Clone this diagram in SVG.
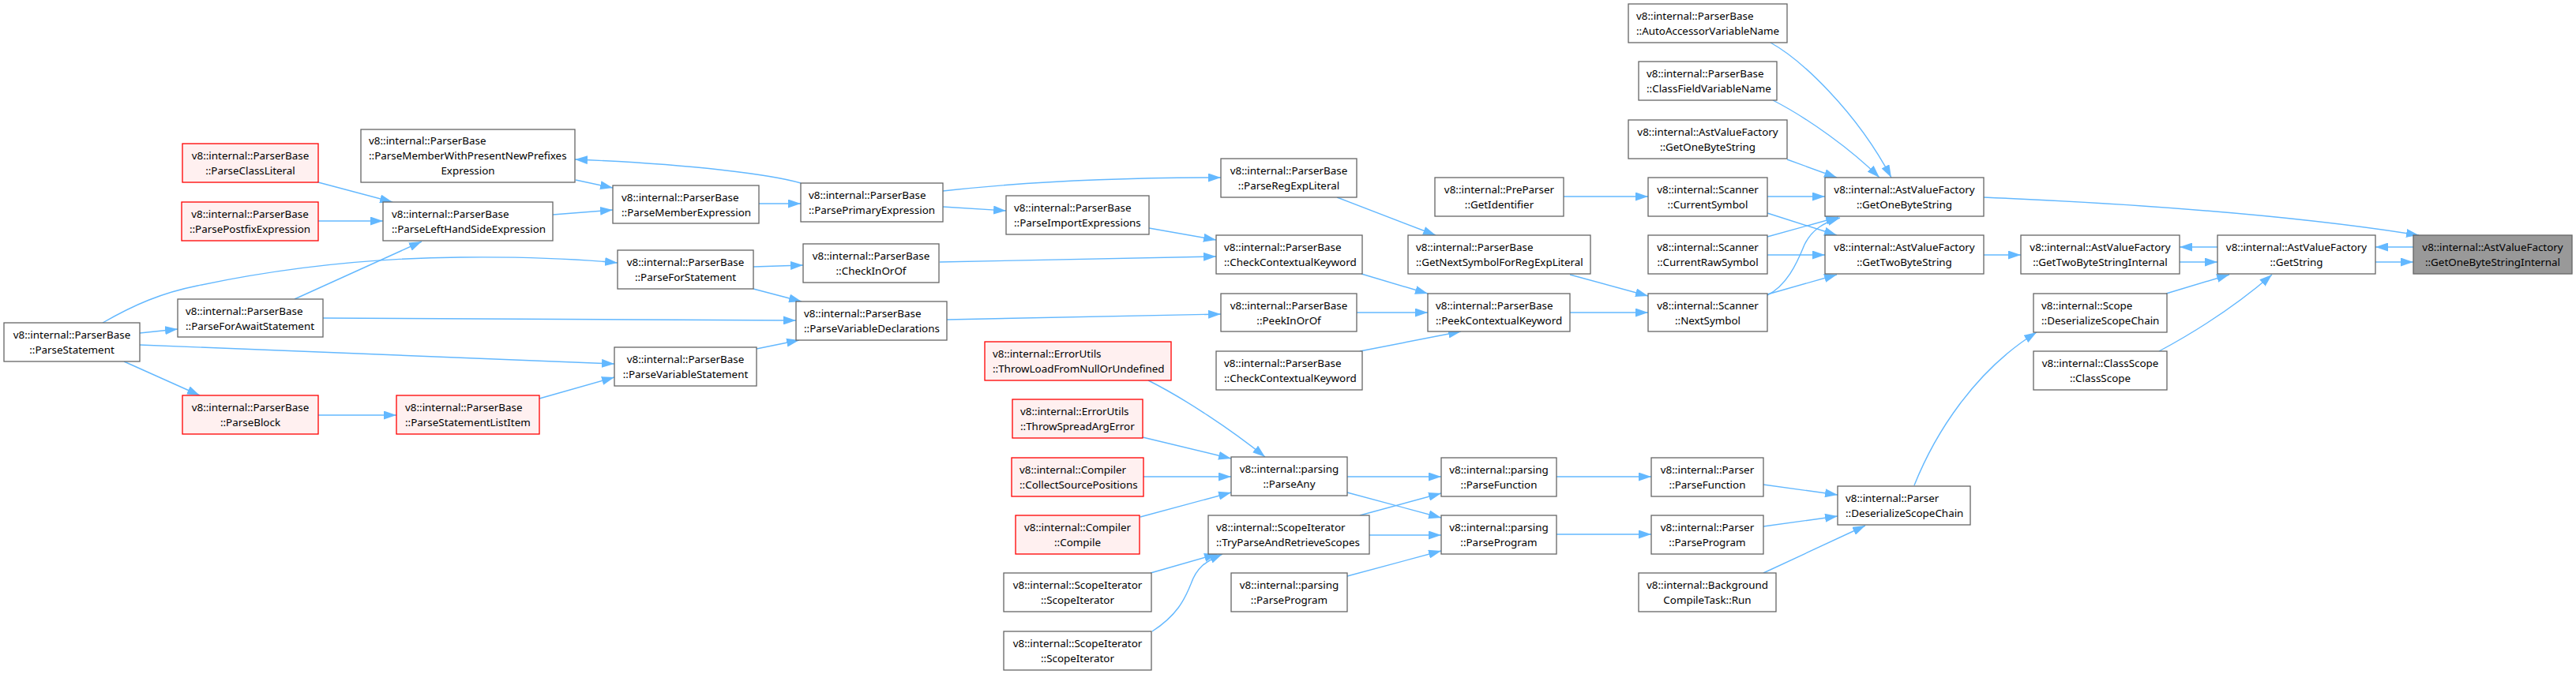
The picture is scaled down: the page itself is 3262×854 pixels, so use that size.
<svg xmlns="http://www.w3.org/2000/svg" width="3262" height="854" viewBox="0 0 3262 854">
<style>
rect{fill:#fff;stroke:#666;stroke-width:1.3}
.r rect{fill:#fff0f0;stroke:#f00}
.m rect{fill:#999;stroke:#666}
text{font-family:"Noto Sans","DejaVu Sans",sans-serif;font-size:13.4px;fill:#000}
.c text{text-anchor:middle}
#edges path{fill:none;stroke:#63b8ff;stroke-width:1.4;marker-end:url(#a)}
</style>
<defs>
<marker id="a" markerWidth="16" markerHeight="11" refX="16" refY="5.5" orient="auto" markerUnits="userSpaceOnUse"><path d="M0,0 L16,5.5 L0,11 z" fill="#63b8ff"/></marker>
</defs>
<rect x="0" y="0" width="3262" height="854" style="fill:#fff;stroke:none"/>
<g id="edges">
<path d="M403,231 L497,256"/>
<path d="M403,280 L485,280"/>
<path d="M373,379 L534,306"/>
<path d="M177,422 L225,417"/>
<path d="M130,409 C170,386 205,371 250,362 C340,343 450,327 583,326 C680,325 740,329 782,333"/>
<path d="M409,403 L1008,406"/>
<path d="M177,437 L778,461"/>
<path d="M157,458 L253,501"/>
<path d="M403,526 L502,526"/>
<path d="M683,505 L778,478"/>
<path d="M729,228 L776,238"/>
<path d="M700,272 L776,266"/>
<path d="M961,258 L1014,258"/>
<path d="M1014,232 C980,222 880,208 728,202"/>
<path d="M1194,242 C1300,230 1420,225 1546,225"/>
<path d="M1194,262 L1274,267"/>
<path d="M1455,289 L1540,304"/>
<path d="M954,338 L1017,336"/>
<path d="M954,366 L1015,382"/>
<path d="M958,442 L1012,431"/>
<path d="M1190,332 L1540,325"/>
<path d="M1199,405 L1546,398"/>
<path d="M1724,347 L1808,372"/>
<path d="M1718,396 L1808,396"/>
<path d="M1722,445 L1850,420"/>
<path d="M1693,250 L1818,298"/>
<path d="M1988,348 L2087,375"/>
<path d="M1988,396 L2087,396"/>
<path d="M1980,249 L2087,249"/>
<path d="M2242,54 C2280,75 2350,140 2395,225"/>
<path d="M2245,127 C2290,150 2345,190 2380,225"/>
<path d="M2263,202 L2326,225"/>
<path d="M2238,249 L2311,249"/>
<path d="M2238,270 L2326,298"/>
<path d="M2238,300 L2328,275"/>
<path d="M2238,323 L2311,323"/>
<path d="M2238,374 C2262,362 2275,335 2285,310 C2295,290 2310,282 2330,276"/>
<path d="M2238,373 L2326,348"/>
<path d="M2512,250 C2700,258 2900,272 3063,298"/>
<path d="M2512,323 L2559,323"/>
<path d="M2808,313 L2760,313"/>
<path d="M2760,332 L2808,332"/>
<path d="M3008,332 L3056,332"/>
<path d="M3056,313 L3008,313"/>
<path d="M2743,372 L2823,348"/>
<path d="M2734,445 C2790,415 2840,380 2877,348"/>
<path d="M2424,615 C2450,550 2500,470 2579,421"/>
<path d="M2233,614 L2327,627"/>
<path d="M2233,667 L2327,654"/>
<path d="M2233,726 L2362,666"/>
<path d="M1971,604 L2091,604"/>
<path d="M1971,677 L2091,677"/>
<path d="M1706,604 L1825,604"/>
<path d="M1706,624 L1825,656"/>
<path d="M1722,653 L1825,625"/>
<path d="M1734,678 L1825,678"/>
<path d="M1706,730 L1825,698"/>
<path d="M1454,482 C1500,505 1560,545 1602,579"/>
<path d="M1447,554 L1559,581"/>
<path d="M1448,604 L1559,604"/>
<path d="M1444,655 L1559,624"/>
<path d="M1457,726 L1541,702"/>
<path d="M1459,800 C1490,780 1500,760 1508,740 C1515,720 1525,712 1548,702"/>
</g>
<g id="n_statement" class="c"><rect x="5" y="409" width="172" height="49"/><text x="91" y="428.5">v8::internal::ParserBase</text><text x="91" y="447.5">::ParseStatement</text></g>
<g id="n_classlit" class="c r"><rect x="231" y="182" width="172" height="49"/><text x="317" y="201.5">v8::internal::ParserBase</text><text x="317" y="220.5">::ParseClassLiteral</text></g>
<g id="n_postfix" class="c r"><rect x="230" y="256" width="173" height="49"/><text x="316.5" y="275.5">v8::internal::ParserBase</text><text x="316.5" y="294.5">::ParsePostfixExpression</text></g>
<g id="n_forawait"><rect x="225" y="379" width="184" height="48"/><text x="235" y="398.5">v8::internal::ParserBase</text><text x="235" y="417.5">::ParseForAwaitStatement</text></g>
<g id="n_block" class="c r"><rect x="231" y="501" width="172" height="49"/><text x="317" y="520.5">v8::internal::ParserBase</text><text x="317" y="539.5">::ParseBlock</text></g>
<g id="n_memberwith"><rect x="457" y="164" width="271" height="67"/><text x="467" y="182.5">v8::internal::ParserBase</text><text x="467" y="201.5">::ParseMemberWithPresentNewPrefixes</text><text x="592.5" y="220.5" text-anchor="middle">Expression</text></g>
<g id="n_lhs"><rect x="485" y="256" width="215" height="49"/><text x="496" y="275.5">v8::internal::ParserBase</text><text x="496" y="294.5">::ParseLeftHandSideExpression</text></g>
<g id="n_stmtlist" class="r"><rect x="502" y="501" width="181" height="49"/><text x="513" y="520.5">v8::internal::ParserBase</text><text x="513" y="539.5">::ParseStatementListItem</text></g>
<g id="n_member"><rect x="776" y="235" width="185" height="48"/><text x="787" y="254.5">v8::internal::ParserBase</text><text x="787" y="273.5">::ParseMemberExpression</text></g>
<g id="n_for" class="c"><rect x="782" y="317" width="172" height="49"/><text x="868" y="336.5">v8::internal::ParserBase</text><text x="868" y="355.5">::ParseForStatement</text></g>
<g id="n_varstmt" class="c"><rect x="778" y="440" width="180" height="49"/><text x="868" y="459.5">v8::internal::ParserBase</text><text x="868" y="478.5">::ParseVariableStatement</text></g>
<g id="n_primary"><rect x="1014" y="232" width="180" height="49"/><text x="1024" y="251.5">v8::internal::ParserBase</text><text x="1024" y="270.5">::ParsePrimaryExpression</text></g>
<g id="n_inorof" class="c"><rect x="1017" y="309" width="172" height="49"/><text x="1103" y="328.5">v8::internal::ParserBase</text><text x="1103" y="347.5">::CheckInOrOf</text></g>
<g id="n_vardecl"><rect x="1008" y="382" width="191" height="49"/><text x="1018" y="401.5">v8::internal::ParserBase</text><text x="1018" y="420.5">::ParseVariableDeclarations</text></g>
<g id="n_import"><rect x="1274" y="248" width="181" height="49"/><text x="1284" y="267.5">v8::internal::ParserBase</text><text x="1284" y="286.5">::ParseImportExpressions</text></g>
<g id="n_throwload" class="r"><rect x="1247" y="433" width="236" height="49"/><text x="1257" y="452.5">v8::internal::ErrorUtils</text><text x="1257" y="471.5">::ThrowLoadFromNullOrUndefined</text></g>
<g id="n_throwspread" class="r"><rect x="1282" y="506" width="165" height="49"/><text x="1292" y="525.5">v8::internal::ErrorUtils</text><text x="1292" y="544.5">::ThrowSpreadArgError</text></g>
<g id="n_collect" class="r"><rect x="1281" y="580" width="167" height="49"/><text x="1291" y="599.5">v8::internal::Compiler</text><text x="1291" y="618.5">::CollectSourcePositions</text></g>
<g id="n_compile" class="c r"><rect x="1286" y="653" width="157" height="49"/><text x="1364.5" y="672.5">v8::internal::Compiler</text><text x="1364.5" y="691.5">::Compile</text></g>
<g id="n_scopeit1" class="c"><rect x="1271" y="726" width="187" height="49"/><text x="1364.5" y="745.5">v8::internal::ScopeIterator</text><text x="1364.5" y="764.5">::ScopeIterator</text></g>
<g id="n_scopeit2" class="c"><rect x="1271" y="800" width="187" height="49"/><text x="1364.5" y="819.5">v8::internal::ScopeIterator</text><text x="1364.5" y="838.5">::ScopeIterator</text></g>
<g id="n_regexp" class="c"><rect x="1546" y="201" width="172" height="49"/><text x="1632" y="220.5">v8::internal::ParserBase</text><text x="1632" y="239.5">::ParseRegExpLiteral</text></g>
<g id="n_checkctx1"><rect x="1540" y="298" width="185" height="49"/><text x="1550" y="317.5">v8::internal::ParserBase</text><text x="1550" y="336.5">::CheckContextualKeyword</text></g>
<g id="n_peekinorof" class="c"><rect x="1546" y="372" width="172" height="48"/><text x="1632" y="391.5">v8::internal::ParserBase</text><text x="1632" y="410.5">::PeekInOrOf</text></g>
<g id="n_checkctx2"><rect x="1540" y="445" width="185" height="49"/><text x="1550" y="464.5">v8::internal::ParserBase</text><text x="1550" y="483.5">::CheckContextualKeyword</text></g>
<g id="n_parseany" class="c"><rect x="1559" y="579" width="147" height="49"/><text x="1632.5" y="598.5">v8::internal::parsing</text><text x="1632.5" y="617.5">::ParseAny</text></g>
<g id="n_tryparse"><rect x="1530" y="653" width="204" height="49"/><text x="1540" y="672.5">v8::internal::ScopeIterator</text><text x="1540" y="691.5">::TryParseAndRetrieveScopes</text></g>
<g id="n_parseprog_lo" class="c"><rect x="1559" y="726" width="147" height="49"/><text x="1632.5" y="745.5">v8::internal::parsing</text><text x="1632.5" y="764.5">::ParseProgram</text></g>
<g id="n_getnext"><rect x="1783" y="298" width="231" height="49"/><text x="1793" y="317.5">v8::internal::ParserBase</text><text x="1793" y="336.5">::GetNextSymbolForRegExpLiteral</text></g>
<g id="n_peekctx"><rect x="1808" y="372" width="180" height="48"/><text x="1818" y="391.5">v8::internal::ParserBase</text><text x="1818" y="410.5">::PeekContextualKeyword</text></g>
<g id="n_getident" class="c"><rect x="1817" y="225" width="163" height="49"/><text x="1898.5" y="244.5">v8::internal::PreParser</text><text x="1898.5" y="263.5">::GetIdentifier</text></g>
<g id="n_pfunc" class="c"><rect x="1825" y="580" width="146" height="49"/><text x="1898" y="599.5">v8::internal::parsing</text><text x="1898" y="618.5">::ParseFunction</text></g>
<g id="n_pprog" class="c"><rect x="1825" y="653" width="146" height="49"/><text x="1898" y="672.5">v8::internal::parsing</text><text x="1898" y="691.5">::ParseProgram</text></g>
<g id="n_auto"><rect x="2062" y="5" width="201" height="49"/><text x="2072" y="24.5">v8::internal::ParserBase</text><text x="2072" y="43.5">::AutoAccessorVariableName</text></g>
<g id="n_classfield"><rect x="2075" y="78" width="175" height="49"/><text x="2085" y="97.5">v8::internal::ParserBase</text><text x="2085" y="116.5">::ClassFieldVariableName</text></g>
<g id="n_getone_l" class="c"><rect x="2062" y="152" width="201" height="49"/><text x="2162.5" y="171.5">v8::internal::AstValueFactory</text><text x="2162.5" y="190.5">::GetOneByteString</text></g>
<g id="n_cursym" class="c"><rect x="2087" y="225" width="151" height="49"/><text x="2162.5" y="244.5">v8::internal::Scanner</text><text x="2162.5" y="263.5">::CurrentSymbol</text></g>
<g id="n_currawsym" class="c"><rect x="2087" y="298" width="151" height="49"/><text x="2162.5" y="317.5">v8::internal::Scanner</text><text x="2162.5" y="336.5">::CurrentRawSymbol</text></g>
<g id="n_nextsym" class="c"><rect x="2087" y="372" width="151" height="48"/><text x="2162.5" y="391.5">v8::internal::Scanner</text><text x="2162.5" y="410.5">::NextSymbol</text></g>
<g id="n_parser_func" class="c"><rect x="2091" y="580" width="142" height="49"/><text x="2162" y="599.5">v8::internal::Parser</text><text x="2162" y="618.5">::ParseFunction</text></g>
<g id="n_parser_prog" class="c"><rect x="2091" y="653" width="142" height="49"/><text x="2162" y="672.5">v8::internal::Parser</text><text x="2162" y="691.5">::ParseProgram</text></g>
<g id="n_bgrun" class="c"><rect x="2075" y="726" width="174" height="49"/><text x="2162" y="745.5">v8::internal::Background</text><text x="2162" y="764.5">CompileTask::Run</text></g>
<g id="n_desc_parser"><rect x="2327" y="616" width="168" height="49"/><text x="2337" y="635.5">v8::internal::Parser</text><text x="2337" y="654.5">::DeserializeScopeChain</text></g>
<g id="n_getone" class="c"><rect x="2311" y="225" width="201" height="49"/><text x="2411.5" y="244.5">v8::internal::AstValueFactory</text><text x="2411.5" y="263.5">::GetOneByteString</text></g>
<g id="n_gettwo" class="c"><rect x="2311" y="298" width="201" height="49"/><text x="2411.5" y="317.5">v8::internal::AstValueFactory</text><text x="2411.5" y="336.5">::GetTwoByteString</text></g>
<g id="n_gettwoint" class="c"><rect x="2559" y="298" width="201" height="49"/><text x="2659.5" y="317.5">v8::internal::AstValueFactory</text><text x="2659.5" y="336.5">::GetTwoByteStringInternal</text></g>
<g id="n_scope_desc"><rect x="2575" y="372" width="169" height="49"/><text x="2585" y="391.5">v8::internal::Scope</text><text x="2585" y="410.5">::DeserializeScopeChain</text></g>
<g id="n_classscope" class="c"><rect x="2575" y="445" width="169" height="49"/><text x="2659.5" y="464.5">v8::internal::ClassScope</text><text x="2659.5" y="483.5">::ClassScope</text></g>
<g id="n_getstring" class="c"><rect x="2808" y="298" width="200" height="49"/><text x="2908" y="317.5">v8::internal::AstValueFactory</text><text x="2908" y="336.5">::GetString</text></g>
<g id="n_getoneint" class="c m"><rect x="3056" y="298" width="201" height="49"/><text x="3156.5" y="317.5">v8::internal::AstValueFactory</text><text x="3156.5" y="336.5">::GetOneByteStringInternal</text></g>
</svg>
